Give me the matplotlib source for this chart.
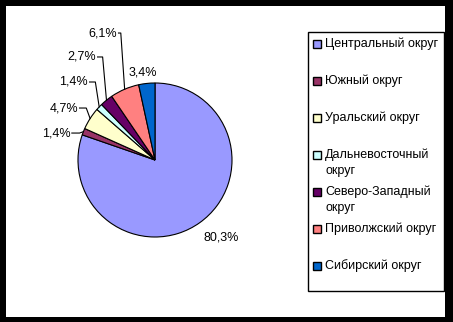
import numpy as np
import matplotlib
matplotlib.use('Agg')
import matplotlib.pyplot as plt
from matplotlib.patches import Rectangle

plt.rcParams['font.family'] = ['Liberation Sans', 'DejaVu Sans']

# data
districts = ['Центральный округ', 'Южный округ', 'Уральский округ',
             'Дальневосточный\nокруг', 'Северо-Западный\nокруг',
             'Приволжский округ', 'Сибирский округ']
shares = [80.3, 1.4, 4.7, 1.4, 2.7, 6.1, 3.4]
colors = ['#9999FF', '#993366', '#FFFFCC', '#CCFFFF', '#660066', '#FF8080', '#0066CC']

# label anchor positions in pie units (x, y, with leader line?)
label_pos = [(0.864, -1.01, False), (-1.10, 0.35, True), (-1.00, 0.675, True),
             (-0.87, 1.013, True), (-0.766, 1.338, True), (-0.494, 1.649, True),
             (-0.16, 1.13, False)]

W, H = 453, 322
fig = plt.figure(figsize=(W / 100, H / 100), dpi=100, facecolor='black')
fig.patches.append(Rectangle((6 / W, 5 / H), 439 / W, 311 / H, transform=fig.transFigure,
                             facecolor='white', edgecolor='none', zorder=-5))

# pie: centre (155,160) px, radius 77 px
ax = fig.add_axes([78 / W, 85 / H, 154 / W, 154 / H])
ax.patch.set_visible(False)
wedges, _ = ax.pie(shares, colors=colors, startangle=90, counterclock=False,
                   wedgeprops=dict(edgecolor='black', linewidth=0.8))
ax.set_xlim(-1, 1)
ax.set_ylim(-1, 1)
ax.set_aspect('equal')

for w, v, (lx, ly, leader) in zip(wedges, shares, label_pos):
    txt = f'{v:.1f}%'.replace('.', ',')
    if not leader:
        ax.text(lx, ly, txt, ha='center', va='center', fontsize=9)
        continue
    ang = np.deg2rad((w.theta1 + w.theta2) / 2)
    ex, ey = np.cos(ang), np.sin(ang)
    ax.text(lx, ly, txt, ha='right', va='center', fontsize=9)
    ax.plot([lx + 0.02, ex - 0.05, ex], [ly, ly, ey], color='black',
            linewidth=0.8, clip_on=False)

# legend box
def fx(px):
    return px / W

def fy(py):
    return 1 - py / H

fig.patches.append(Rectangle((fx(308), fy(291)), (444 - 308) / W, (291 - 32) / H,
                             transform=fig.transFigure, facecolor='white',
                             edgecolor='black', linewidth=1, zorder=1))
for i, (name, c) in enumerate(zip(districts, colors)):
    y0 = 44 + 37 * i
    fig.patches.append(Rectangle((fx(313), fy(y0 + 4)), 8 / W, 8 / H,
                                 transform=fig.transFigure, facecolor=c,
                                 edgecolor='black', linewidth=1, zorder=2))
    for j, line in enumerate(name.split('\n')):
        fig.text(fx(325), fy(y0 + 16 * j), line, ha='left', va='center',
                 fontsize=9, zorder=3)

fig.savefig('out.png', dpi=100, facecolor=fig.get_facecolor())
